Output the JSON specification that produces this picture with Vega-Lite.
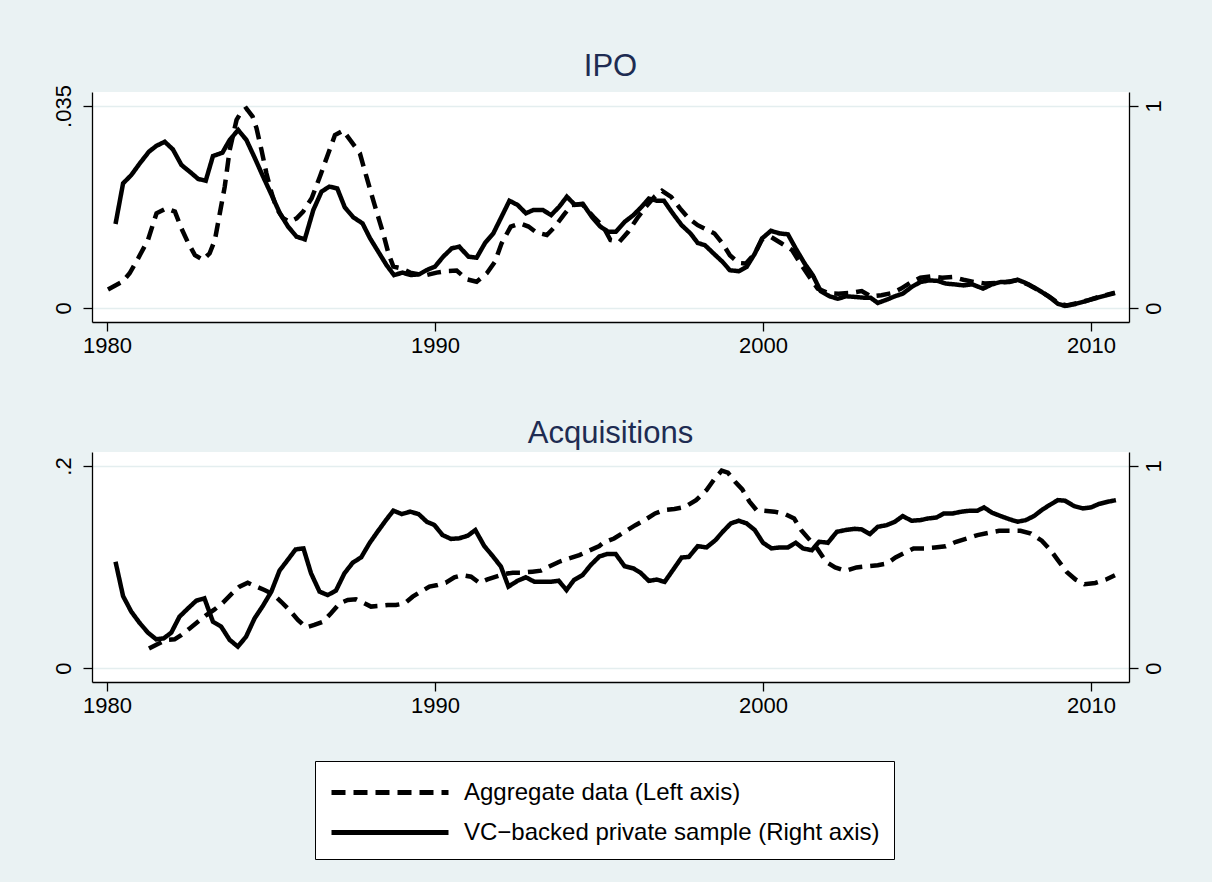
{
"$schema": "https://vega.github.io/schema/vega-lite/v6.json",
"background": "#eaf2f3",
"padding": {"left": 52, "top": 50, "right": 50, "bottom": 40},
"datasets": {
"ipo_agg": [
{"year":1980.03,"value":0.00322},{"year":1980.47,"value":0.00455},{"year":1980.69,"value":0.00602},{"year":1980.95,"value":0.00861},{"year":1981.25,"value":0.0118},{"year":1981.51,"value":0.01642},{"year":1981.81,"value":0.01726},{"year":1982.07,"value":0.0167},{"year":1982.27,"value":0.01379},{"year":1982.48,"value":0.0112},{"year":1982.68,"value":0.00917},{"year":1982.93,"value":0.00833},{"year":1983.13,"value":0.00949},{"year":1983.29,"value":0.0118},{"year":1983.44,"value":0.01642},{"year":1983.59,"value":0.02104},{"year":1983.74,"value":0.02737},{"year":1983.95,"value":0.03259},{"year":1984.1,"value":0.03402},{"year":1984.25,"value":0.03458},{"year":1984.44,"value":0.03315},{"year":1984.56,"value":0.03112},{"year":1984.71,"value":0.02737},{"year":1984.86,"value":0.02335},{"year":1985.02,"value":0.01988},{"year":1985.17,"value":0.01726},{"year":1985.37,"value":0.01554},{"year":1985.57,"value":0.01495},{"year":1985.78,"value":0.01554},{"year":1985.98,"value":0.0167},{"year":1986.24,"value":0.01901},{"year":1986.49,"value":0.02275},{"year":1986.71,"value":0.02622},{"year":1986.95,"value":0.02996},{"year":1987.2,"value":0.03073},{"year":1987.41,"value":0.02912},{"year":1987.71,"value":0.02681},{"year":1987.91,"value":0.02275},{"year":1988.07,"value":0.01957},{"year":1988.22,"value":0.0167},{"year":1988.42,"value":0.01295},{"year":1988.58,"value":0.00949},{"year":1988.73,"value":0.00718},{"year":1988.98,"value":0.00686},{"year":1989.24,"value":0.00613},{"year":1989.49,"value":0.00585},{"year":1989.75,"value":0.00571},{"year":1990.05,"value":0.00613},{"year":1990.36,"value":0.00641},{"year":1990.66,"value":0.00648},{"year":1990.97,"value":0.00497},{"year":1991.27,"value":0.00455},{"year":1991.58,"value":0.00602},{"year":1991.83,"value":0.00802},{"year":1992.03,"value":0.0112},{"year":1992.31,"value":0.01411},{"year":1992.59,"value":0.01467},{"year":1992.85,"value":0.01411},{"year":1993.1,"value":0.01306},{"year":1993.41,"value":0.01264},{"year":1993.66,"value":0.01411},{"year":1993.92,"value":0.0161},{"year":1994.17,"value":0.01785},{"year":1994.48,"value":0.01803},{"year":1994.83,"value":0.01582},{"year":1995.13,"value":0.01407},{"year":1995.35,"value":0.01176},{"year":1995.62,"value":0.01145},{"year":1995.89,"value":0.0132},{"year":1996.16,"value":0.01551},{"year":1996.43,"value":0.01754},{"year":1996.71,"value":0.01939},{"year":1996.92,"value":0.0203},{"year":1997.2,"value":0.01925},{"year":1997.47,"value":0.01726},{"year":1997.74,"value":0.01551},{"year":1998.01,"value":0.01435},{"year":1998.28,"value":0.01358},{"year":1998.52,"value":0.01292},{"year":1998.77,"value":0.01117},{"year":1998.99,"value":0.00914},{"year":1999.26,"value":0.00781},{"year":1999.48,"value":0.0077},{"year":1999.75,"value":0.00942},{"year":1999.97,"value":0.01187},{"year":2000.24,"value":0.01232},{"year":2000.57,"value":0.01117},{"year":2000.89,"value":0.01001},{"year":2001.11,"value":0.00798},{"year":2001.38,"value":0.00567},{"year":2001.67,"value":0.00336},{"year":2001.98,"value":0.00259},{"year":2002.3,"value":0.00249},{"year":2002.63,"value":0.00259},{"year":2003.01,"value":0.00294},{"year":2003.28,"value":0.00203},{"year":2003.61,"value":0.00221},{"year":2003.93,"value":0.00259},{"year":2004.21,"value":0.00336},{"year":2004.48,"value":0.00434},{"year":2004.8,"value":0.00525},{"year":2005.13,"value":0.0055},{"year":2005.46,"value":0.00525},{"year":2005.78,"value":0.00539},{"year":2006.11,"value":0.0049},{"year":2006.43,"value":0.00452},{"year":2006.76,"value":0.00424},{"year":2007.09,"value":0.00434},{"year":2007.41,"value":0.00452},{"year":2007.74,"value":0.0048},{"year":2008.07,"value":0.0041},{"year":2008.39,"value":0.00308},{"year":2008.72,"value":0.00203},{"year":2008.99,"value":0.00088},{"year":2009.26,"value":0.00046},{"year":2009.59,"value":0.00088},{"year":2009.91,"value":0.00133},{"year":2010.24,"value":0.00193},{"year":2010.73,"value":0.00266}
],
"ipo_vc": [
{"year":1980.26,"value":0.416},{"year":1980.49,"value":0.617},{"year":1980.74,"value":0.658},{"year":1981.0,"value":0.716},{"year":1981.28,"value":0.774},{"year":1981.5,"value":0.802},{"year":1981.76,"value":0.823},{"year":1982.01,"value":0.785},{"year":1982.27,"value":0.708},{"year":1982.52,"value":0.675},{"year":1982.78,"value":0.639},{"year":1983.01,"value":0.63},{"year":1983.23,"value":0.752},{"year":1983.52,"value":0.769},{"year":1983.74,"value":0.832},{"year":1984.0,"value":0.881},{"year":1984.25,"value":0.832},{"year":1984.51,"value":0.741},{"year":1984.76,"value":0.65},{"year":1985.02,"value":0.559},{"year":1985.27,"value":0.469},{"year":1985.52,"value":0.403},{"year":1985.78,"value":0.353},{"year":1986.03,"value":0.34},{"year":1986.29,"value":0.485},{"year":1986.54,"value":0.576},{"year":1986.78,"value":0.601},{"year":1987.02,"value":0.592},{"year":1987.25,"value":0.498},{"year":1987.51,"value":0.449},{"year":1987.79,"value":0.419},{"year":1988.02,"value":0.345},{"year":1988.27,"value":0.279},{"year":1988.52,"value":0.213},{"year":1988.75,"value":0.163},{"year":1989.01,"value":0.175},{"year":1989.26,"value":0.163},{"year":1989.52,"value":0.167},{"year":1989.75,"value":0.188},{"year":1990.0,"value":0.205},{"year":1990.25,"value":0.254},{"year":1990.51,"value":0.295},{"year":1990.74,"value":0.304},{"year":1991.02,"value":0.254},{"year":1991.27,"value":0.249},{"year":1991.53,"value":0.323},{"year":1991.78,"value":0.37},{"year":1992.03,"value":0.452},{"year":1992.27,"value":0.531},{"year":1992.52,"value":0.51},{"year":1992.77,"value":0.469},{"year":1993.0,"value":0.485},{"year":1993.29,"value":0.485},{"year":1993.54,"value":0.46},{"year":1993.79,"value":0.502},{"year":1994.02,"value":0.551},{"year":1994.27,"value":0.51},{"year":1994.51,"value":0.515},{"year":1994.78,"value":0.452},{"year":1995.04,"value":0.403},{"year":1995.29,"value":0.377},{"year":1995.51,"value":0.377},{"year":1995.78,"value":0.426},{"year":1996.05,"value":0.46},{"year":1996.27,"value":0.496},{"year":1996.52,"value":0.542},{"year":1996.76,"value":0.531},{"year":1996.98,"value":0.531},{"year":1997.25,"value":0.468},{"year":1997.52,"value":0.41},{"year":1997.79,"value":0.369},{"year":1998.01,"value":0.322},{"year":1998.23,"value":0.311},{"year":1998.5,"value":0.269},{"year":1998.77,"value":0.228},{"year":1998.99,"value":0.187},{"year":1999.26,"value":0.182},{"year":1999.5,"value":0.203},{"year":1999.75,"value":0.269},{"year":1999.97,"value":0.344},{"year":2000.24,"value":0.382},{"year":2000.51,"value":0.369},{"year":2000.76,"value":0.365},{"year":2001.0,"value":0.294},{"year":2001.27,"value":0.22},{"year":2001.52,"value":0.162},{"year":2001.76,"value":0.083},{"year":2002.03,"value":0.058},{"year":2002.28,"value":0.046},{"year":2002.54,"value":0.058},{"year":2002.79,"value":0.055},{"year":2003.07,"value":0.051},{"year":2003.28,"value":0.051},{"year":2003.5,"value":0.025},{"year":2003.77,"value":0.041},{"year":2004.02,"value":0.058},{"year":2004.26,"value":0.071},{"year":2004.53,"value":0.104},{"year":2004.8,"value":0.129},{"year":2005.08,"value":0.137},{"year":2005.33,"value":0.134},{"year":2005.57,"value":0.121},{"year":2005.84,"value":0.117},{"year":2006.11,"value":0.112},{"year":2006.38,"value":0.117},{"year":2006.71,"value":0.096},{"year":2006.98,"value":0.117},{"year":2007.25,"value":0.129},{"year":2007.52,"value":0.129},{"year":2007.76,"value":0.14},{"year":2008.01,"value":0.124},{"year":2008.28,"value":0.101},{"year":2008.55,"value":0.074},{"year":2008.8,"value":0.046},{"year":2008.99,"value":0.021},{"year":2009.21,"value":0.01},{"year":2009.48,"value":0.018},{"year":2009.75,"value":0.03},{"year":2010.02,"value":0.043},{"year":2010.29,"value":0.055},{"year":2010.54,"value":0.066},{"year":2010.73,"value":0.074}
],
"acq_agg": [
{"year":1981.28,"value":0.0194},{"year":1981.55,"value":0.0238},{"year":1981.81,"value":0.0278},{"year":1982.06,"value":0.0284},{"year":1982.26,"value":0.0326},{"year":1982.52,"value":0.0392},{"year":1982.77,"value":0.0458},{"year":1983.03,"value":0.0524},{"year":1983.28,"value":0.058},{"year":1983.53,"value":0.0646},{"year":1983.79,"value":0.0732},{"year":1984.04,"value":0.0806},{"year":1984.29,"value":0.0844},{"year":1984.55,"value":0.0806},{"year":1984.8,"value":0.0772},{"year":1985.06,"value":0.0732},{"year":1985.31,"value":0.0656},{"year":1985.56,"value":0.0574},{"year":1985.82,"value":0.0476},{"year":1986.07,"value":0.0402},{"year":1986.32,"value":0.0426},{"year":1986.58,"value":0.0458},{"year":1986.83,"value":0.0542},{"year":1987.09,"value":0.064},{"year":1987.34,"value":0.0674},{"year":1987.59,"value":0.068},{"year":1987.82,"value":0.0646},{"year":1988.05,"value":0.0608},{"year":1988.3,"value":0.0614},{"year":1988.56,"value":0.0624},{"year":1988.81,"value":0.0624},{"year":1989.07,"value":0.064},{"year":1989.32,"value":0.0706},{"year":1989.57,"value":0.0756},{"year":1989.83,"value":0.0806},{"year":1990.08,"value":0.0822},{"year":1990.33,"value":0.0844},{"year":1990.59,"value":0.0898},{"year":1990.84,"value":0.092},{"year":1991.1,"value":0.0904},{"year":1991.35,"value":0.0844},{"year":1991.6,"value":0.0878},{"year":1991.86,"value":0.0904},{"year":1992.11,"value":0.093},{"year":1992.37,"value":0.0944},{"year":1992.67,"value":0.0944},{"year":1992.97,"value":0.0954},{"year":1993.23,"value":0.0964},{"year":1993.48,"value":0.1004},{"year":1993.79,"value":0.1052},{"year":1994.09,"value":0.1086},{"year":1994.4,"value":0.1118},{"year":1994.7,"value":0.1162},{"year":1995.01,"value":0.1208},{"year":1995.13,"value":0.124},{"year":1995.46,"value":0.1282},{"year":1995.78,"value":0.1348},{"year":1996.11,"value":0.1414},{"year":1996.43,"value":0.1472},{"year":1996.71,"value":0.153},{"year":1996.98,"value":0.1564},{"year":1997.3,"value":0.1574},{"year":1997.63,"value":0.1596},{"year":1997.96,"value":0.1662},{"year":1998.28,"value":0.1762},{"year":1998.5,"value":0.1862},{"year":1998.74,"value":0.1954},{"year":1998.93,"value":0.1934},{"year":1999.15,"value":0.1844},{"year":1999.37,"value":0.1768},{"year":1999.59,"value":0.1646},{"year":1999.8,"value":0.1564},{"year":2000.02,"value":0.1558},{"year":2000.35,"value":0.1548},{"year":2000.67,"value":0.1524},{"year":2000.95,"value":0.148},{"year":2001.16,"value":0.1366},{"year":2001.43,"value":0.1266},{"year":2001.65,"value":0.1184},{"year":2001.92,"value":0.1052},{"year":2002.2,"value":0.0996},{"year":2002.52,"value":0.0962},{"year":2002.85,"value":0.0996},{"year":2003.17,"value":0.1008},{"year":2003.5,"value":0.1018},{"year":2003.77,"value":0.1034},{"year":2004.04,"value":0.1094},{"year":2004.32,"value":0.114},{"year":2004.59,"value":0.1184},{"year":2004.91,"value":0.1184},{"year":2005.24,"value":0.1194},{"year":2005.57,"value":0.1206},{"year":2005.89,"value":0.125},{"year":2006.22,"value":0.1282},{"year":2006.54,"value":0.1316},{"year":2006.87,"value":0.1338},{"year":2007.2,"value":0.1358},{"year":2007.52,"value":0.1358},{"year":2007.85,"value":0.1358},{"year":2008.17,"value":0.1332},{"year":2008.5,"value":0.126},{"year":2008.77,"value":0.1166},{"year":2008.99,"value":0.1068},{"year":2009.26,"value":0.0952},{"year":2009.53,"value":0.0876},{"year":2009.8,"value":0.083},{"year":2010.13,"value":0.0842},{"year":2010.46,"value":0.0876},{"year":2010.73,"value":0.0918}
],
"acq_vc": [
{"year":1980.26,"value":0.526},{"year":1980.49,"value":0.356},{"year":1980.74,"value":0.279},{"year":1980.99,"value":0.224},{"year":1981.25,"value":0.175},{"year":1981.5,"value":0.142},{"year":1981.73,"value":0.147},{"year":1981.96,"value":0.175},{"year":1982.21,"value":0.254},{"year":1982.47,"value":0.295},{"year":1982.72,"value":0.333},{"year":1982.97,"value":0.345},{"year":1983.23,"value":0.229},{"year":1983.48,"value":0.205},{"year":1983.74,"value":0.139},{"year":1983.99,"value":0.106},{"year":1984.24,"value":0.155},{"year":1984.5,"value":0.246},{"year":1984.75,"value":0.307},{"year":1985.01,"value":0.378},{"year":1985.26,"value":0.482},{"year":1985.51,"value":0.535},{"year":1985.75,"value":0.587},{"year":1985.99,"value":0.592},{"year":1986.22,"value":0.469},{"year":1986.48,"value":0.378},{"year":1986.73,"value":0.361},{"year":1986.98,"value":0.383},{"year":1987.24,"value":0.469},{"year":1987.49,"value":0.521},{"year":1987.75,"value":0.548},{"year":1988.0,"value":0.617},{"year":1988.25,"value":0.675},{"year":1988.51,"value":0.733},{"year":1988.73,"value":0.779},{"year":1988.99,"value":0.762},{"year":1989.24,"value":0.774},{"year":1989.5,"value":0.762},{"year":1989.75,"value":0.724},{"year":1989.98,"value":0.708},{"year":1990.23,"value":0.658},{"year":1990.49,"value":0.639},{"year":1990.74,"value":0.642},{"year":1991.0,"value":0.655},{"year":1991.23,"value":0.683},{"year":1991.5,"value":0.604},{"year":1991.76,"value":0.554},{"year":1992.01,"value":0.502},{"year":1992.24,"value":0.403},{"year":1992.52,"value":0.432},{"year":1992.77,"value":0.449},{"year":1993.03,"value":0.427},{"year":1993.28,"value":0.427},{"year":1993.53,"value":0.427},{"year":1993.77,"value":0.432},{"year":1994.01,"value":0.386},{"year":1994.24,"value":0.436},{"year":1994.5,"value":0.46},{"year":1994.75,"value":0.51},{"year":1995.01,"value":0.552},{"year":1995.24,"value":0.564},{"year":1995.51,"value":0.564},{"year":1995.78,"value":0.504},{"year":1996.05,"value":0.493},{"year":1996.27,"value":0.471},{"year":1996.52,"value":0.431},{"year":1996.76,"value":0.438},{"year":1997.0,"value":0.426},{"year":1997.25,"value":0.484},{"year":1997.52,"value":0.547},{"year":1997.74,"value":0.55},{"year":1998.01,"value":0.603},{"year":1998.28,"value":0.597},{"year":1998.55,"value":0.633},{"year":1998.77,"value":0.674},{"year":1999.02,"value":0.716},{"year":1999.26,"value":0.729},{"year":1999.5,"value":0.716},{"year":1999.75,"value":0.683},{"year":2000.0,"value":0.62},{"year":2000.26,"value":0.592},{"year":2000.51,"value":0.597},{"year":2000.76,"value":0.597},{"year":2001.0,"value":0.62},{"year":2001.22,"value":0.592},{"year":2001.49,"value":0.583},{"year":2001.71,"value":0.625},{"year":2001.98,"value":0.62},{"year":2002.25,"value":0.674},{"year":2002.52,"value":0.683},{"year":2002.79,"value":0.689},{"year":2003.01,"value":0.686},{"year":2003.26,"value":0.663},{"year":2003.5,"value":0.699},{"year":2003.77,"value":0.707},{"year":2004.02,"value":0.724},{"year":2004.26,"value":0.752},{"year":2004.53,"value":0.729},{"year":2004.8,"value":0.732},{"year":2005.02,"value":0.74},{"year":2005.29,"value":0.745},{"year":2005.51,"value":0.765},{"year":2005.78,"value":0.765},{"year":2006.05,"value":0.774},{"year":2006.33,"value":0.779},{"year":2006.54,"value":0.779},{"year":2006.74,"value":0.795},{"year":2006.98,"value":0.769},{"year":2007.25,"value":0.752},{"year":2007.52,"value":0.736},{"year":2007.76,"value":0.724},{"year":2008.01,"value":0.732},{"year":2008.26,"value":0.752},{"year":2008.5,"value":0.782},{"year":2008.74,"value":0.807},{"year":2008.99,"value":0.831},{"year":2009.21,"value":0.828},{"year":2009.48,"value":0.802},{"year":2009.75,"value":0.79},{"year":2010.0,"value":0.795},{"year":2010.24,"value":0.812},{"year":2010.51,"value":0.823},{"year":2010.76,"value":0.831}
]
},
"config": {
"font": "Liberation Sans",
"view": {"fill": "white", "stroke": null},
"axis": {"labelFont": "Liberation Sans", "labelFontSize": 22, "labelColor": "black", "domainColor": "black", "tickColor": "black", "domainWidth": 1.3, "tickWidth": 1.3, "tickSize": 9, "gridColor": "#e4eeef", "gridWidth": 1.5, "labelFlush": false, "title": null},
"axisY": {"labelAngle": -90, "labelPadding": 8},
"axisX": {"labelPadding": 4},
"title": {"font": "Liberation Sans", "fontSize": 31, "fontWeight": "normal", "color": "#1e2c52", "offset": 2, "frame": "group", "anchor": "middle"},
"legend": {"labelFont": "Liberation Sans"}
},
"spacing": 130,
"bounds": "flush",
"vconcat": [
{
"title": {"text": "IPO"},
"width": 1037, "height": 230,
"layer": [
{"data": {"name": "ipo_agg"}, "transform": [{"calculate": "'agg'", "as": "series"}],
"mark": {"type": "line", "color": "black", "strokeWidth": 4.5, "strokeCap": "butt"},
"encoding": {
"x": {"field": "year", "type": "quantitative", "scale": {"domain": [1979.5427, 2011.159], "nice": false, "zero": false}, "axis": {"values": [1980, 1990, 2000, 2010], "format": "d", "grid": false}},
"y": {"field": "value", "type": "quantitative", "scale": {"domain": [-0.002426, 0.037426], "nice": false, "zero": false}, "axis": {"values": [0, 0.035], "labelExpr": "datum.value == 0 ? '0' : '.035'", "grid": true, "labelAlign": "center", "labelBaseline": "bottom"}},
"strokeDash": {"field": "series", "type": "nominal", "scale": {"domain": ["agg", "vc"], "range": [[14, 8], [1, 0]]},
"legend": {"title": null, "orient": "none", "legendX": 223, "legendY": 669, "direction": "vertical", "labelExpr": "datum.value == 'agg' ? 'Aggregate data (Left axis)' : 'VC−backed private sample (Right axis)'", "symbolType": "M-1,0H6.8", "symbolSize": 900, "symbolStrokeWidth": 5, "symbolStrokeColor": "black", "labelFontSize": 24, "labelColor": "black", "labelOffset": 100, "rowPadding": 10, "padding": 14, "strokeColor": "black", "fillColor": "white", "labelLimit": 700}}
}},
{"data": {"name": "ipo_vc"}, "transform": [{"calculate": "'vc'", "as": "series"}],
"mark": {"type": "line", "color": "black", "strokeWidth": 4.5, "strokeCap": "butt"},
"encoding": {
"x": {"field": "year", "type": "quantitative"},
"y": {"field": "value", "type": "quantitative", "scale": {"domain": [-0.0693, 1.0693], "nice": false, "zero": false}, "axis": {"orient": "right", "values": [0, 1], "format": "d", "grid": false, "labelAlign": "center", "labelBaseline": "top", "labelPadding": 5}},
"strokeDash": {"field": "series", "type": "nominal", "scale": {"domain": ["agg", "vc"], "range": [[14, 8], [1, 0]]},
"legend": {"title": null, "orient": "none", "legendX": 223, "legendY": 669, "direction": "vertical", "labelExpr": "datum.value == 'agg' ? 'Aggregate data (Left axis)' : 'VC−backed private sample (Right axis)'", "symbolType": "M-1,0H6.8", "symbolSize": 900, "symbolStrokeWidth": 5, "symbolStrokeColor": "black", "labelFontSize": 24, "labelColor": "black", "labelOffset": 100, "rowPadding": 10, "padding": 14, "strokeColor": "black", "fillColor": "white", "labelLimit": 700}}
}}
],
"resolve": {"scale": {"y": "independent"}}
},
{
"title": {"text": "Acquisitions"},
"width": 1037, "height": 230,
"layer": [
{"data": {"name": "acq_agg"}, "transform": [{"calculate": "'agg'", "as": "series"}],
"mark": {"type": "line", "color": "black", "strokeWidth": 4.5, "strokeCap": "butt"},
"encoding": {
"x": {"field": "year", "type": "quantitative", "scale": {"domain": [1979.5427, 2011.159], "nice": false, "zero": false}, "axis": {"values": [1980, 1990, 2000, 2010], "format": "d", "grid": false}},
"y": {"field": "value", "type": "quantitative", "scale": {"domain": [-0.01386, 0.21386], "nice": false, "zero": false}, "axis": {"values": [0, 0.2], "labelExpr": "datum.value == 0 ? '0' : '.2'", "grid": true, "labelAlign": "center", "labelBaseline": "bottom"}},
"strokeDash": {"field": "series", "type": "nominal", "scale": {"domain": ["agg", "vc"], "range": [[14, 8], [1, 0]]},
"legend": {"title": null, "orient": "none", "legendX": 223, "legendY": 669, "direction": "vertical", "labelExpr": "datum.value == 'agg' ? 'Aggregate data (Left axis)' : 'VC−backed private sample (Right axis)'", "symbolType": "M-1,0H6.8", "symbolSize": 900, "symbolStrokeWidth": 5, "symbolStrokeColor": "black", "labelFontSize": 24, "labelColor": "black", "labelOffset": 100, "rowPadding": 10, "padding": 14, "strokeColor": "black", "fillColor": "white", "labelLimit": 700}}
}},
{"data": {"name": "acq_vc"}, "transform": [{"calculate": "'vc'", "as": "series"}],
"mark": {"type": "line", "color": "black", "strokeWidth": 4.5, "strokeCap": "butt"},
"encoding": {
"x": {"field": "year", "type": "quantitative"},
"y": {"field": "value", "type": "quantitative", "scale": {"domain": [-0.0693, 1.0693], "nice": false, "zero": false}, "axis": {"orient": "right", "values": [0, 1], "format": "d", "grid": false, "labelAlign": "center", "labelBaseline": "top", "labelPadding": 5}},
"strokeDash": {"field": "series", "type": "nominal", "scale": {"domain": ["agg", "vc"], "range": [[14, 8], [1, 0]]},
"legend": {"title": null, "orient": "none", "legendX": 223, "legendY": 669, "direction": "vertical", "labelExpr": "datum.value == 'agg' ? 'Aggregate data (Left axis)' : 'VC−backed private sample (Right axis)'", "symbolType": "M-1,0H6.8", "symbolSize": 900, "symbolStrokeWidth": 5, "symbolStrokeColor": "black", "labelFontSize": 24, "labelColor": "black", "labelOffset": 100, "rowPadding": 10, "padding": 14, "strokeColor": "black", "fillColor": "white", "labelLimit": 700}}
}}
],
"resolve": {"scale": {"y": "independent"}}
}
]
}
